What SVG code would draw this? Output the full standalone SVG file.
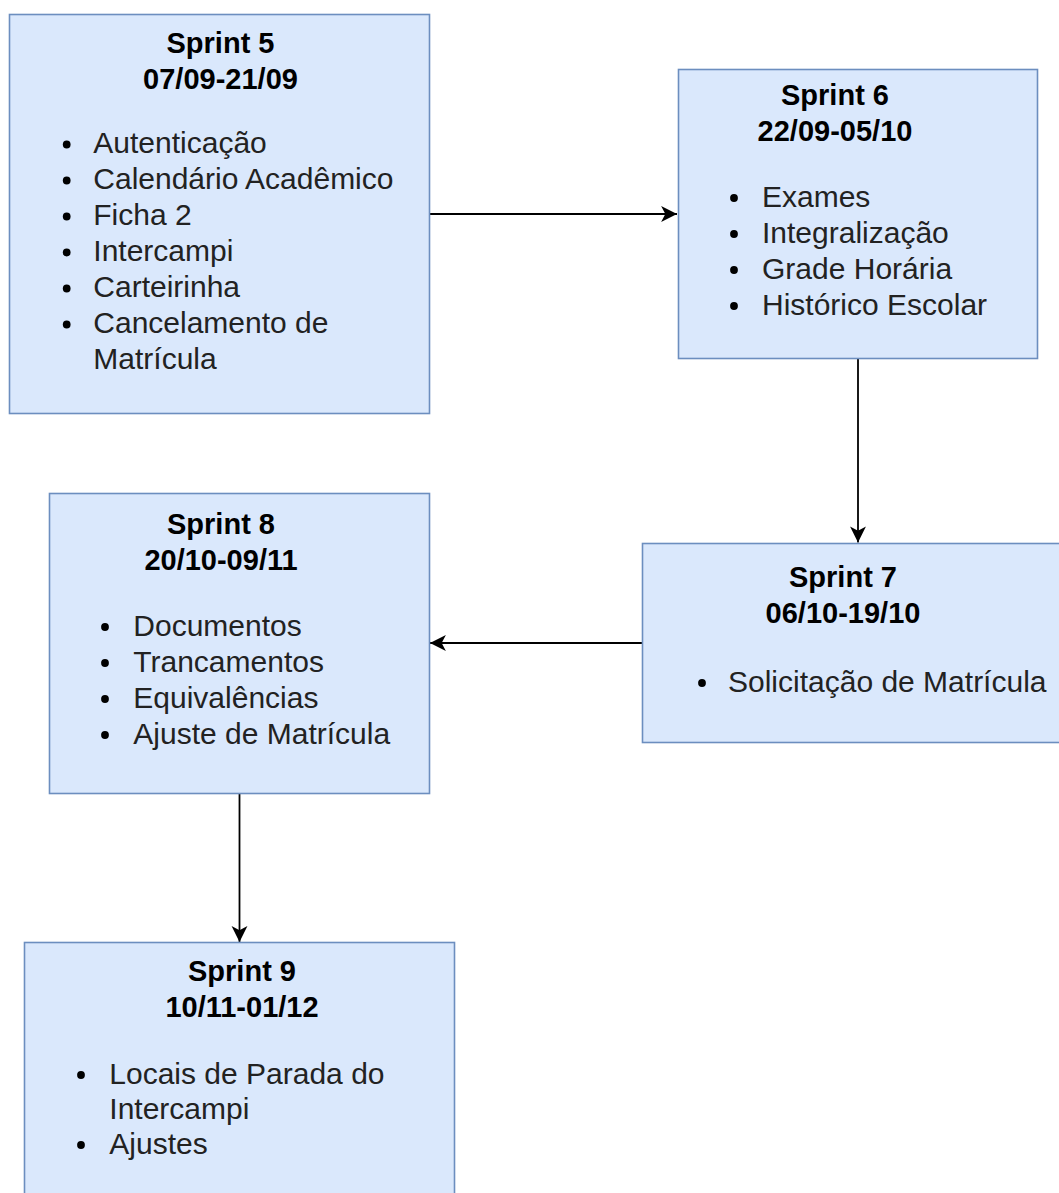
<svg xmlns="http://www.w3.org/2000/svg" width="1059" height="1193" viewBox="0 0 1059 1193">
  <defs>
    <style>
      .box { fill: #dae8fc; stroke: #6c8ebf; stroke-width: 1.6; }
      .title { font-family: "Liberation Sans", Arial, Helvetica, sans-serif; font-size: 29px; font-weight: bold; fill: #000; text-anchor: middle; }
      .item { font-family: "Liberation Sans", Arial, Helvetica, sans-serif; font-size: 30px; fill: #222; }
      .dot { fill: #000; }
      .edge { fill: none; stroke: #000; stroke-width: 1.8; }
    </style>
    <marker id="arrow" markerUnits="userSpaceOnUse" markerWidth="18" markerHeight="18" viewBox="-16 -8 17 16" refX="0" refY="0" orient="auto">
      <path d="M0,0 L-15,-7.5 L-11,0 L-15,7.5 Z" fill="#000"/>
    </marker>
  </defs>

  <!-- connectors between sprints -->
  <g id="connectors">
    <path class="edge" d="M429.5,214 L677,214" marker-end="url(#arrow)"/>
    <path class="edge" d="M858,358.5 L858,542.5" marker-end="url(#arrow)"/>
    <path class="edge" d="M642.5,643 L430,643" marker-end="url(#arrow)"/>
    <path class="edge" d="M239.5,793.5 L239.5,942" marker-end="url(#arrow)"/>
  </g>

  <!-- Sprint 5 -->
  <g id="sprint5">
    <rect class="box" x="9.5" y="14.5" width="420" height="399"/>
    <text class="title" x="220.5" y="52.5">Sprint 5</text>
    <text class="title" x="220.5" y="88.5">07/09-21/09</text>
    <circle class="dot" cx="66.7" cy="144.5" r="3.9"/>
    <circle class="dot" cx="66.7" cy="180.5" r="3.9"/>
    <circle class="dot" cx="66.7" cy="216.5" r="3.9"/>
    <circle class="dot" cx="66.7" cy="252.5" r="3.9"/>
    <circle class="dot" cx="66.7" cy="288.5" r="3.9"/>
    <circle class="dot" cx="66.7" cy="324.5" r="3.9"/>
    <text class="item" x="93.3" y="153">Autenticação</text>
    <text class="item" x="93.3" y="189">Calendário Acadêmico</text>
    <text class="item" x="93.3" y="225">Ficha 2</text>
    <text class="item" x="93.3" y="261">Intercampi</text>
    <text class="item" x="93.3" y="297">Carteirinha</text>
    <text class="item" x="93.3" y="333">Cancelamento de</text>
    <text class="item" x="93.3" y="369">Matrícula</text>
  </g>

  <!-- Sprint 6 -->
  <g id="sprint6">
    <rect class="box" x="678.5" y="69.5" width="359" height="289"/>
    <text class="title" x="835" y="104.5">Sprint 6</text>
    <text class="title" x="835" y="140.5">22/09-05/10</text>
    <circle class="dot" cx="734" cy="198" r="3.9"/>
    <circle class="dot" cx="734" cy="234" r="3.9"/>
    <circle class="dot" cx="734" cy="270" r="3.9"/>
    <circle class="dot" cx="734" cy="306" r="3.9"/>
    <text class="item" x="762" y="206.7">Exames</text>
    <text class="item" x="762" y="242.7">Integralização</text>
    <text class="item" x="762" y="278.7">Grade Horária</text>
    <text class="item" x="762" y="314.7">Histórico Escolar</text>
  </g>

  <!-- Sprint 7 -->
  <g id="sprint7">
    <rect class="box" x="642.5" y="543.5" width="431" height="199"/>
    <text class="title" x="843" y="587">Sprint 7</text>
    <text class="title" x="843" y="623">06/10-19/10</text>
    <circle class="dot" cx="702" cy="683" r="3.9"/>
    <text class="item" x="728" y="691.7">Solicitação de Matrícula</text>
  </g>

  <!-- Sprint 8 -->
  <g id="sprint8">
    <rect class="box" x="49.5" y="493.5" width="380" height="300"/>
    <text class="title" x="221" y="533.5">Sprint 8</text>
    <text class="title" x="221" y="569.5">20/10-09/11</text>
    <circle class="dot" cx="105" cy="627" r="3.9"/>
    <circle class="dot" cx="105" cy="663" r="3.9"/>
    <circle class="dot" cx="105" cy="699" r="3.9"/>
    <circle class="dot" cx="105" cy="735" r="3.9"/>
    <text class="item" x="133.3" y="635.7">Documentos</text>
    <text class="item" x="133.3" y="671.7">Trancamentos</text>
    <text class="item" x="133.3" y="707.7">Equivalências</text>
    <text class="item" x="133.3" y="743.7">Ajuste de Matrícula</text>
  </g>

  <!-- Sprint 9 -->
  <g id="sprint9">
    <rect class="box" x="24.5" y="942.5" width="430" height="300"/>
    <text class="title" x="242" y="981">Sprint 9</text>
    <text class="title" x="242" y="1017">10/11-01/12</text>
    <circle class="dot" cx="81" cy="1075" r="3.9"/>
    <circle class="dot" cx="81" cy="1145" r="3.9"/>
    <text class="item" x="109.3" y="1083.5">Locais de Parada do</text>
    <text class="item" x="109.3" y="1118.5">Intercampi</text>
    <text class="item" x="109.3" y="1153.5">Ajustes</text>
  </g>
</svg>
